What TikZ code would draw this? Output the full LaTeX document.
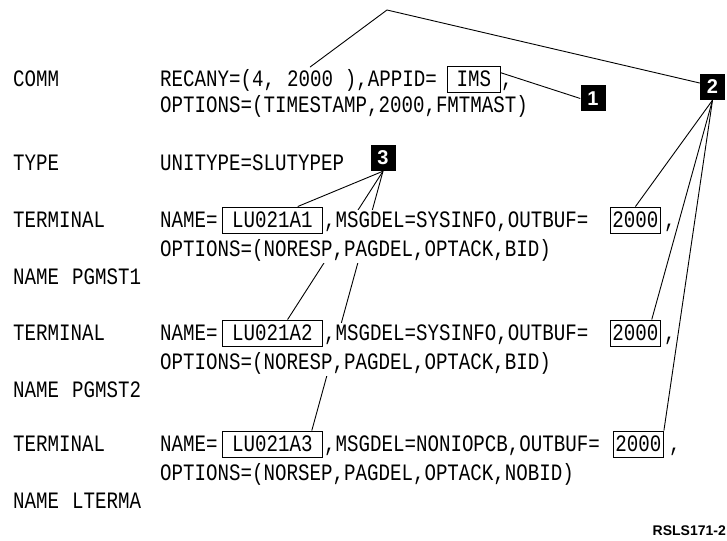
\documentclass[tikz,border=0pt]{standalone}
\usepackage{fontspec}
\setmainfont{Liberation Sans}
\newfontfamily\codefont{Liberation Mono}[FakeStretch=0.815]
\usetikzlibrary{fit,calc}
\pgfdeclarelayer{bg}
\pgfdeclarelayer{cover}
\pgfsetlayers{bg,cover,main}
\begin{document}
\begin{tikzpicture}[x=1pt,y=-1pt,
  txt/.style={anchor=base west, inner sep=0pt, font=\codefont\fontsize{23.5}{27}\selectfont},
  valbox/.style={txt, draw, line width=0.9pt, inner sep=0pt, text height=15.5pt, text depth=0.5pt,
    inner ysep=5pt, minimum width=#1},
  tag/.style={fill=black, text=white, inner sep=0pt, minimum width=25pt, minimum height=26pt,
    font=\bfseries\fontsize{20}{20}\selectfont},
  conn/.style={line width=0.9pt},
  cov/.style={fill=white, inner sep=1.5pt}]
\useasboundingbox (0,0) rectangle (727,540);

% ---- COMM ----
\node[txt] (comm) at (13,87) {COMM};
\node[txt] (r1) at (160,87) {RECANY=(4,};
\node[txt] (r2000) at ($(r1.base east)+(11.5,0)$) {2000};
\node[txt] (r3) at (r2000.base east) {\ ),APPID=};
\node[valbox=53pt] (ims) at (447,87) {IMS};
\node[txt] (imsc) at ($(ims.base east)+(0,0)$) {,};
\node[txt] (copt) at (160,113) {OPTIONS=(TIMESTAMP,2000,FMTMAST)};

% ---- TYPE ----
\node[txt] (type) at (13,170) {TYPE};
\node[txt] (unit) at (160,170) {UNITYPE=SLUTYPEP};

% ---- TERMINAL 1 ----
\node[txt] (t1) at (13,227.5) {TERMINAL};
\node[txt] (t1n) at (160,227.5) {NAME=};
\node[valbox=100pt] (lu1) at (222,227.5) {LU021A1};
\node[txt] (t1m) at ($(lu1.base east)+(1,0)$) {,MSGDEL=SYSINFO,OUTBUF=};
\node[valbox=50pt] (buf1) at (610,227.5) {2000};
\node[txt] (t1c) at ($(buf1.base east)+(3,0)$) {,};
\node[txt] (t1o) at (160,256.5) {OPTIONS=(NORESP,PAGDEL,OPTACK,BID)};
\node[txt] (n1a) at (13,284.5) {NAME};
\node[txt] (n1b) at (72,284.5) {PGMST1};

% ---- TERMINAL 2 ----
\node[txt] (t2) at (13,340.5) {TERMINAL};
\node[txt] (t2n) at (160,340.5) {NAME=};
\node[valbox=100pt] (lu2) at (222,340.5) {LU021A2};
\node[txt] (t2m) at ($(lu2.base east)+(1,0)$) {,MSGDEL=SYSINFO,OUTBUF=};
\node[valbox=50pt] (buf2) at (610,340.5) {2000};
\node[txt] (t2c) at ($(buf2.base east)+(3,0)$) {,};
\node[txt] (t2o) at (160,369.5) {OPTIONS=(NORESP,PAGDEL,OPTACK,BID)};
\node[txt] (n2a) at (13,397.5) {NAME};
\node[txt] (n2b) at (72,397.5) {PGMST2};

% ---- TERMINAL 3 ----
\node[txt] (t3) at (13,451.5) {TERMINAL};
\node[txt] (t3n) at (160,451.5) {NAME=};
\node[valbox=100pt] (lu3) at (222,451.5) {LU021A3};
\node[txt] (t3m) at ($(lu3.base east)+(1,0)$) {,MSGDEL=NONIOPCB,OUTBUF=};
\node[valbox=50pt] (buf3) at (613,451.5) {2000};
\node[txt] (t3c) at ($(buf3.base east)+(5,0)$) {,};
\node[txt] (t3o) at (160,480.5) {OPTIONS=(NORSEP,PAGDEL,OPTACK,NOBID)};
\node[txt] (n3a) at (13,508.5) {NAME};
\node[txt] (n3b) at (72,508.5) {LTERMA};

% ---- callout tags ----
\node[tag] (b1) at (593,98.5) {1};
\node[tag] (b2) at (712.5,87) {2};
\node[tag] (b3) at (383,158) {3};
\coordinate (peak) at (387,10);

\node[anchor=base east, inner sep=0pt, font=\bfseries\fontsize{14}{14}\selectfont] (ref) at (726,535) {RSLS171-2};

% ---- white covers behind the statements ----
\begin{pgfonlayer}{cover}
\node[cov, fit=(t1n)(t1m)(t1o)] {};
\node[cov, fit=(t2n)(t2m)(t2o)] {};
\end{pgfonlayer}

% ---- connectors ----
\begin{pgfonlayer}{bg}
\draw[conn] ($(r2000.north)+(0,-4)$) -- (peak) -- ($(b2.north west)!0.35!(b2.south west)$);
\draw[conn] ($(ims.north east)!0.25!(ims.south east)$) -- (b1.west);
\draw[conn] (b2.south) -- (buf1.north);
\draw[conn] (b2.south) -- ($(buf2.north west)!0.82!(buf2.north east)$);
\draw[conn] (b2.south) -- (buf3.north east);
\draw[conn] (b3.south) -- ($(lu1.north west)!0.75!(lu1.north east)$);
\draw[conn] (b3.south) -- ($(lu2.north west)!0.65!(lu2.north east)$);
\draw[conn] (b3.south) -- ($(lu3.north west)!0.89!(lu3.north east)$);
\end{pgfonlayer}
\end{tikzpicture}
\end{document}
